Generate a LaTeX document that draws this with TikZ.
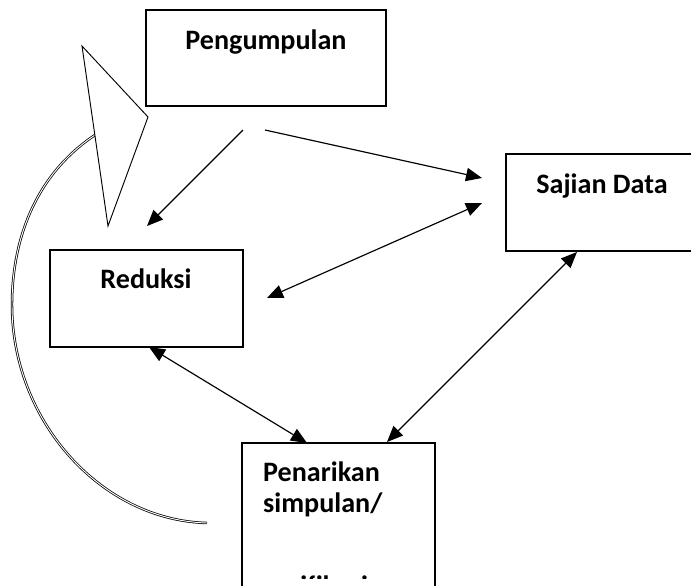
\documentclass[tikz,border=0pt]{standalone}
\usepackage{fontspec}
\setmainfont{Carlito}
\usetikzlibrary{arrows.meta}

\tikzset{
  box/.style={draw, line width=1.1pt, inner sep=0pt},
  lbl/.style={font=\fontsize{24}{30}\selectfont\bfseries, inner sep=0pt},
  conn/.style={line width=1pt, -{Triangle[length=4.8mm,width=4mm]}},
  both/.style={line width=1pt, {Triangle[length=4.8mm,width=4mm]}-{Triangle[length=4.8mm,width=4mm]}}
}

\begin{document}
\begin{tikzpicture}[x=0.03cm, y=-0.03cm]
\useasboundingbox (0,0) rectangle (691,586);
\clip (0,0) rectangle (691,586);

% Boxes
\node[box, minimum width=7.2cm, minimum height=2.88cm] (pengumpulan) at (266,58) {};
\node[box, minimum width=5.64cm, minimum height=2.91cm] (sajian) at (600,202.5) {};
\node[box, minimum width=5.79cm, minimum height=2.91cm] (reduksi) at (146.5,298.5) {};
\node[box, minimum width=5.79cm, minimum height=4.41cm] (penarikan) at (338.5,516.5) {};

% Labels
\node[lbl, anchor=base] (tpengumpulan) at (266,49) {Pengumpulan};
\node[lbl, anchor=base] (tsajian) at (602,193) {Sajian Data};
\node[lbl, anchor=base] (treduksi) at (146,288) {Reduksi};
\node[lbl, anchor=base west] (tpenarikan) at (263,481) {Penarikan};
\node[lbl, anchor=base west] (tsimpulan) at (263,512) {simpulan/};
\begin{scope}
\clip (244,445) rectangle (433,578);
\node[lbl, anchor=base west] (tverifikasi) at (263,595) {verifikasi};
\end{scope}

% Arrow ends
\coordinate (pr) at (243,130);
\coordinate (rp) at (147,226);
\coordinate (ps) at (265,130);
\coordinate (sp) at (482,178);
\coordinate (sr) at (482,203);
\coordinate (rs) at (267,298);
\coordinate (rn) at (149,347);
\coordinate (nr) at (307,443);
\coordinate (sn) at (577,252);
\coordinate (ns) at (387,442);

\draw[conn] (pr) -- (rp);
\draw[conn] (ps) -- (sp);
\draw[both] (rs) -- (sr);
\draw[both] (rn) -- (nr);
\draw[both] (ns) -- (sn);

% Loop back
\coordinate (lpstart) at (207,523);
\coordinate (lpend) at (95,135);
\draw[double, line width=0.65pt, double distance=0.8pt]
  (lpstart) .. controls (100,520) and (12,420) .. (12,305)
  .. controls (12,240) and (35,175) .. (lpend);
\draw[line width=0.8pt, fill=white] (82,46) -- (148,117) -- (108,226) -- cycle;

\end{tikzpicture}
\end{document}
